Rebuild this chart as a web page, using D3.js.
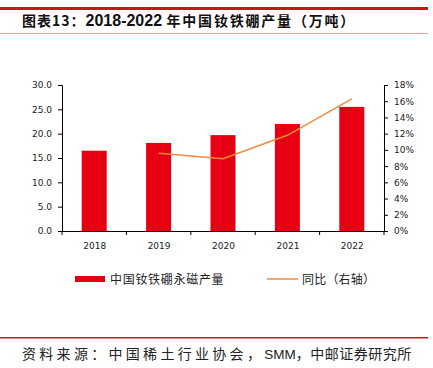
<!DOCTYPE html>
<html>
<head>
<meta charset="utf-8">
<script src="https://cdn.jsdelivr.net/npm/d3@7"></script>
<style>
  body { margin: 0; background: #fff; }
  svg { display: block; font-family: "Noto Sans CJK SC", "Liberation Sans", sans-serif; }
</style>
</head>
<body>
<svg id="chart" width="433" height="368"></svg>
<script>
const years = ["2018", "2019", "2020", "2021", "2022"];
const output = [16.5, 18.1, 19.7, 22.0, 25.5];
const growth = [null, 9.6, 8.9, 11.8, 16.3];
const leftTicks = [0, 5, 10, 15, 20, 25, 30];
const rightTicks = [0, 2, 4, 6, 8, 10, 12, 14, 16, 18];

const svg = d3.select("#chart");
const red = "#e60012";
const orange = "#f28a3c";

// header rules + title
svg.append("rect").attr("x", 0).attr("y", 7).attr("width", 428).attr("height", 3).attr("fill", "#c8161d");
svg.append("rect").attr("x", 0).attr("y", 33).attr("width", 428).attr("height", 1).attr("fill", "#e8a0a0");
const title = svg.append("text").attr("x", 22).attr("y", 26).attr("font-size", 14).attr("fill", "#111");
title.append("tspan").attr("font-weight", "bold").attr("letter-spacing", 1).text("图表13：");
title.append("tspan").attr("font-family", "Liberation Sans").attr("font-size", 16).attr("font-weight", "bold").text("2018-2022 ");
title.append("tspan").attr("font-weight", "bold").attr("letter-spacing", 1.8).text("年中国钕铁硼产量（万吨）");

// scales
const xLine = d3.scalePoint().domain(years).range([62, 384]).padding(0.5);
const y = d3.scaleLinear().domain([0, 30]).range([231, 85]);
const y2 = d3.scaleLinear().domain([0, 18]).range([231, 85]);

// bars
svg.selectAll("rect.bar")
  .data(output)
  .enter()
  .append("rect")
  .attr("class", "bar")
  .attr("x", (d, i) => xLine(years[i]) - 12.5)
  .attr("width", 25)
  .attr("y", d => y(d))
  .attr("height", d => y(0) - y(d))
  .attr("fill", red);

// line
const line = d3.line()
  .defined(d => d != null)
  .x((d, i) => xLine(years[i]))
  .y(d => y2(d));
svg.append("path")
  .datum(growth)
  .attr("d", line)
  .attr("fill", "none")
  .attr("stroke", orange)
  .attr("stroke-width", 1.5);

// axes
const tickFont = g => g.selectAll("text").attr("font-family", "DejaVu Sans, sans-serif").attr("font-size", 9).attr("fill", "#222");

const leftAxis = svg.append("g").attr("transform", "translate(62,0)")
  .call(d3.axisLeft(y).tickValues(leftTicks).tickFormat(d3.format(".1f")).tickSize(4).tickPadding(6));
leftAxis.call(tickFont);
leftAxis.select(".domain").attr("stroke", "#000");

const rightAxis = svg.append("g").attr("transform", "translate(384,0)")
  .call(d3.axisRight(y2).tickValues(rightTicks).tickFormat(d => d + "%").tickSize(4).tickPadding(6));
rightAxis.call(tickFont);
rightAxis.select(".domain").attr("stroke", "#000");

const bottomAxis = svg.append("g").attr("transform", "translate(0,231)")
  .call(d3.axisBottom(xLine).tickSize(0).tickPadding(12));
bottomAxis.call(tickFont);
bottomAxis.select(".domain").attr("stroke", "#000");
// category boundary ticks
const step = xLine.step();
bottomAxis.selectAll("line.sep")
  .data(d3.range(years.length + 1))
  .enter()
  .append("line")
  .attr("class", "sep")
  .attr("x1", i => 62 + i * step)
  .attr("x2", i => 62 + i * step)
  .attr("y1", 0)
  .attr("y2", 4)
  .attr("stroke", "#000");

// legend
svg.append("rect").attr("x", 75).attr("y", 276).attr("width", 30).attr("height", 6).attr("fill", red);
svg.append("text").attr("x", 110).attr("y", 284).attr("font-size", 12).attr("letter-spacing", 0.7).attr("fill", "#222").text("中国钕铁硼永磁产量");
svg.append("line").attr("x1", 267).attr("x2", 298).attr("y1", 279).attr("y2", 279).attr("stroke", orange).attr("stroke-width", 1.5);
svg.append("text").attr("x", 302).attr("y", 284).attr("font-size", 12).attr("letter-spacing", 0.2).attr("fill", "#222").text("同比（右轴）");

// footer
svg.append("rect").attr("x", 0).attr("y", 337).attr("width", 428).attr("height", 1.5).attr("fill", "#c8161d");
const foot = svg.append("text").attr("x", 22).attr("y", 359).attr("font-size", 14).attr("fill", "#222");
foot.append("tspan").attr("letter-spacing", 3.3).text("资料来源：中国稀土行业协会，");
foot.append("tspan").attr("font-family", "Liberation Sans").attr("font-size", 13.5).text("SMM");
foot.append("tspan").attr("letter-spacing", 0.5).text("，中邮证券研究所");
</script>
</body>
</html>
